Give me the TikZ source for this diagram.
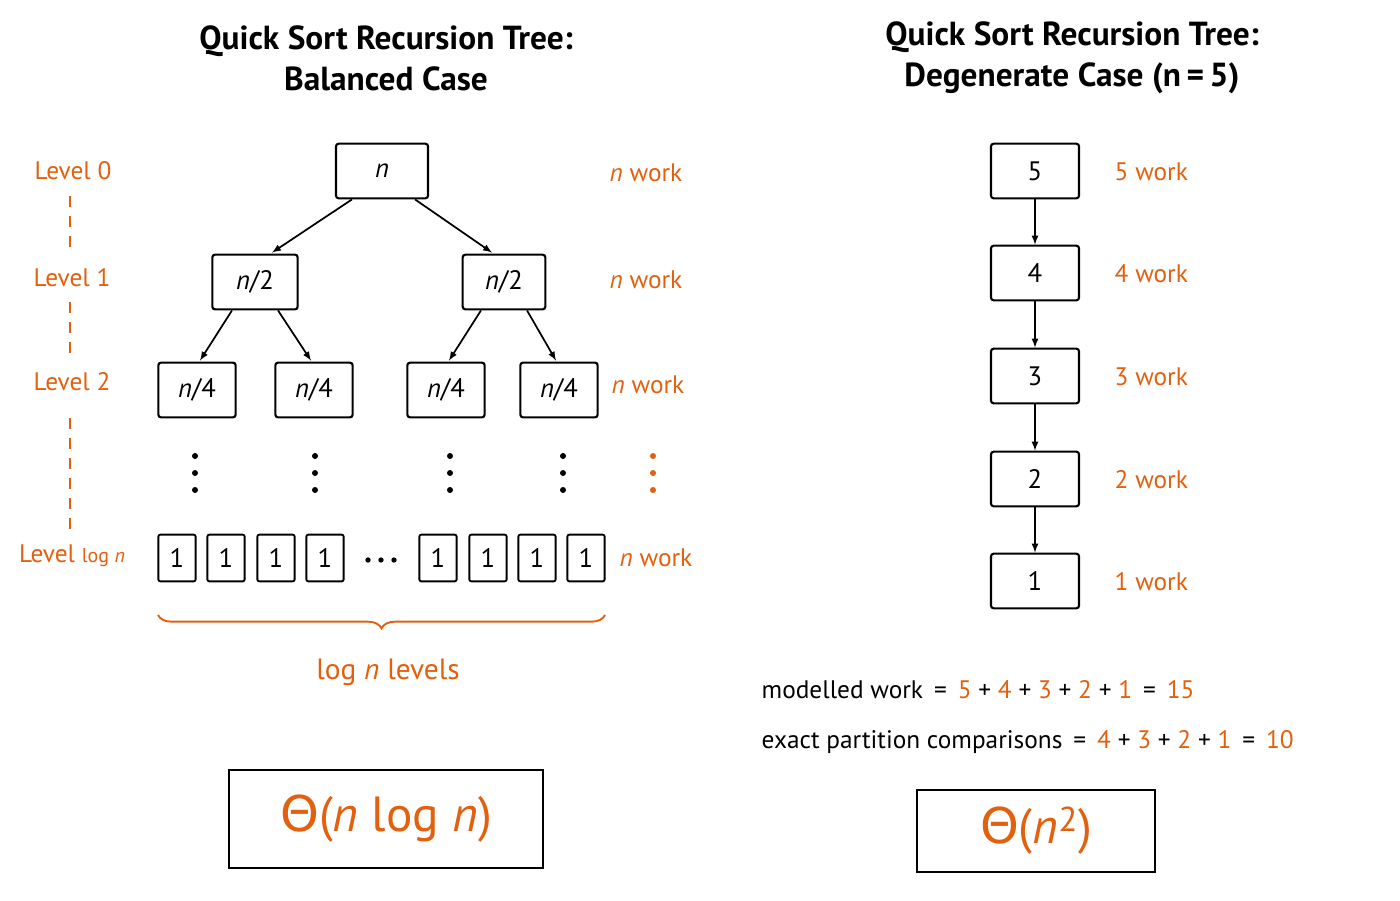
\documentclass[tikz,border=0pt]{standalone}
\usepackage{fontspec}
\setmainfont{PT Sans}
\newfontfamily\grk{DejaVu Sans}
\usetikzlibrary{decorations.pathreplacing,calc}
\definecolor{org}{HTML}{E2600E}
\begin{document}
\begin{tikzpicture}[x=0.75pt,y=-0.75pt,
 box/.style={draw,line width=1.6pt,rounded corners=2pt,minimum height=41pt,font=\fontsize{20}{22}\selectfont},
 leaf/.style={draw,line width=1.4pt,rounded corners=1.5pt,minimum width=28pt,minimum height=35pt,inner sep=0pt,font=\fontsize{20}{22}\selectfont},
 title/.style={font=\fontsize{25}{31}\selectfont\bfseries,align=center},
 lvl/.style={text=org,font=\fontsize{19}{22}\selectfont},
 wk/.style={text=org,font=\fontsize{19}{22}\selectfont},
 arr/.style={-latex,line width=1.3pt},
 dot/.style={circle,fill,inner sep=0pt,minimum size=4.5pt}]
\fill[white] (0,0) rectangle (1400,900);
\node[title] (t1) at (386,58) {Quick Sort Recursion Tree:\\Balanced Case};
\node[title] (t2) at (1072,58) {Quick Sort Recursion Tree:\\Degenerate Case (n\,=\,5)};
% left tree
\node[box,minimum width=69pt] (r) at (382,171) {\textit{n}};
\node[box,minimum width=64pt] (a) at (255,282) {\textit{n}/2};
\node[box,minimum width=62pt] (b) at (504,282) {\textit{n}/2};
\node[box,minimum width=58pt] (c1) at (197,390) {\textit{n}/4};
\node[box,minimum width=58pt] (c2) at (314,390) {\textit{n}/4};
\node[box,minimum width=58pt] (c3) at (446,390) {\textit{n}/4};
\node[box,minimum width=58pt] (c4) at (559,390) {\textit{n}/4};
\draw[arr] ($(r.south)+(-30,0)$) -- ($(a.north)+(17,-1)$);
\draw[arr] ($(r.south)+(33,0)$) -- ($(b.north)+(-12,-1)$);
\draw[arr] ($(a.south)+(-23,0)$) -- ($(c1.north)+(3,-1)$);
\draw[arr] ($(a.south)+(23,0)$) -- ($(c2.north)+(-3,-1)$);
\draw[arr] ($(b.south)+(-23,0)$) -- ($(c3.north)+(3,-1)$);
\draw[arr] ($(b.south)+(23,0)$) -- ($(c4.north)+(-3,-1)$);
\foreach \x/\n in {195/d1,315/d2,450/d3,563/d4}{
 \node[dot] (\n a) at (\x,456) {}; \node[dot] (\n b) at (\x,473) {}; \node[dot] (\n c) at (\x,490) {};}
\node[dot,org] (d5a) at (653,456) {}; \node[dot,org] (d5b) at (653,473) {}; \node[dot,org] (d5c) at (653,490) {};
\foreach \x/\n in {177/l1,226/l2,276/l3,325/l4,438/l5,488/l6,537/l7,586/l8}{\node[leaf] (\n) at (\x,558) {1};}
\node[dot,minimum size=4pt] (e1) at (368,560) {};\node[dot,minimum size=4pt] (e2) at (381,560) {};\node[dot,minimum size=4pt] (e3) at (394,560) {};
\node[lvl] (L0) at (73,171) {Level 0};
\node[lvl] (L1) at (72,278) {Level 1};
\node[lvl] (L2) at (72,382) {Level 2};
\node[lvl] (L3) at (72,556) {Level {\fontsize{15}{15}\selectfont log \textit{n}}};
\coordinate (s1) at (70,196); \coordinate (e1c) at (70,252);
\coordinate (s2) at (70,302); \coordinate (e2c) at (70,360);
\coordinate (s3) at (70,418); \coordinate (e3c) at (70,532);
\draw[org,line width=1.2pt,dash pattern=on 8pt off 7pt] (s1) -- (e1c) (s2) -- (e2c) (s3) -- (e3c);
\node[wk] (w0) at (646,173) {\textit{n} work};
\node[wk] (w1) at (646,280) {\textit{n} work};
\node[wk] (w2) at (648,385) {\textit{n} work};
\node[wk] (w3) at (656,558) {\textit{n} work};
\coordinate (bl) at (158,615); \coordinate (br) at (605,615);
\draw[org,line width=1.4pt,decorate,decoration={brace,mirror,amplitude=10pt}] (bl) -- (br);
\node[wk,font=\fontsize{22}{24}\selectfont] (lv) at (388,672) {log \textit{n} levels};
\node[draw,line width=1.6pt,minimum width=236pt,minimum height=73pt,text=org,font=\fontsize{37}{40}\selectfont] (th1) at (386,819) {{\grk Θ}(\textit{n} log \textit{n})};
% right chain
\foreach \v/\y in {5/171,4/273,3/376,2/479,1/581}{
 \node[box,minimum width=66pt] (k\v) at (1035,\y) {\v};
 \node[wk,anchor=west] (kw\v) at (1110,\y+1) {\v{} work};}
\foreach \a/\b in {5/4,4/3,3/2,2/1}{\draw[arr] (k\a) -- (k\b);}
\node[anchor=west,font=\fontsize{19}{22}\selectfont] (m1) at (757,690) {modelled work \,=\, \textcolor{org}{5} + \textcolor{org}{4} + \textcolor{org}{3} + \textcolor{org}{2} + \textcolor{org}{1} \,=\, \textcolor{org}{15}};
\node[anchor=west,font=\fontsize{19}{22}\selectfont] (m2) at (757,742) {exact partition comparisons \,=\, \textcolor{org}{4} + \textcolor{org}{3} + \textcolor{org}{2} + \textcolor{org}{1} \,=\, \textcolor{org}{10}};
\node[draw,line width=1.6pt,minimum width=178pt,minimum height=62pt,text=org,font=\fontsize{37}{40}\selectfont] (th2) at (1036,831) {{\grk Θ}(\textit{n}\textsuperscript{2})};
\end{tikzpicture}
\end{document}
